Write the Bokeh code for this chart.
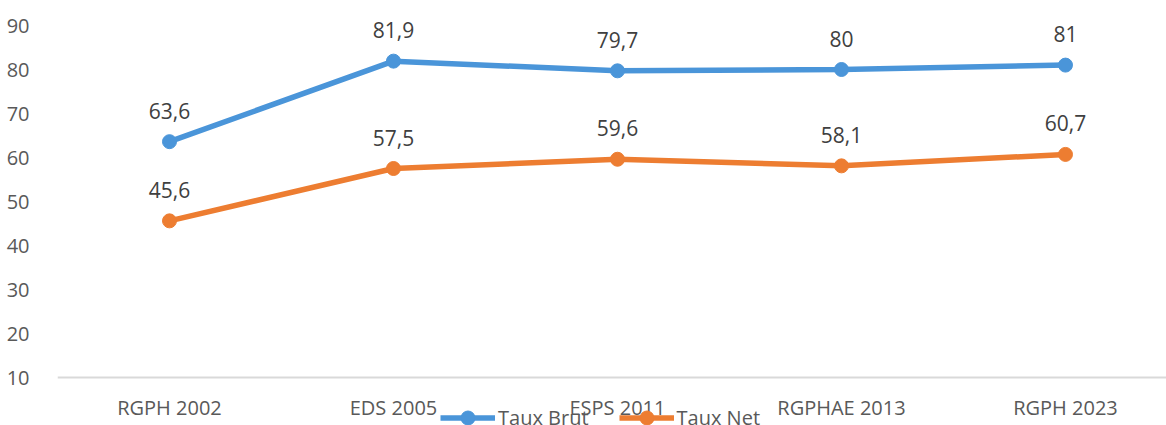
from bokeh.plotting import figure
from bokeh.models import ColumnDataSource, FixedTicker, Range1d, Legend, LegendItem, LinearAxis
from bokeh.core.properties import value
from bokeh.embed import file_html
from bokeh.resources import INLINE

categories = ["RGPH 2002", "EDS 2005", "ESPS 2011", "RGPHAE 2013", "RGPH 2023"]
taux_brut = [63.6, 81.9, 79.7, 80, 81]
taux_net = [45.6, 57.5, 59.6, 58.1, 60.7]
y_ticks = [10, 20, 30, 40, 50, 60, 70, 80, 90]

FONT = "Open Sans"
BLUE = "#4A95D9"
ORANGE = "#ED7D31"

xs = list(range(len(categories)))

def fmt(v):
    s = ("%g" % v)
    return s.replace(".", ",")

src_b = ColumnDataSource(dict(x=xs, y=taux_brut, lab=[fmt(v) for v in taux_brut]))
src_n = ColumnDataSource(dict(x=xs, y=taux_net, lab=[fmt(v) for v in taux_net]))

p = figure(width=1166, height=425, output_backend="svg", toolbar_location=None,
           x_range=Range1d(-0.5, 4.451), y_range=Range1d(10 - 48 / 4.4, 90 + 25 / 4.4),
           x_axis_location=None,
           min_border_left=57, min_border_right=0, min_border_top=0, min_border_bottom=0)
p.outline_line_color = None
p.xgrid.grid_line_color = None
p.ygrid.grid_line_color = None
p.background_fill_color = "white"
p.border_fill_color = "white"

lb = p.line("x", "y", source=src_b, line_color=BLUE, line_width=5.5)
cb = p.scatter("x", "y", source=src_b, size=14, fill_color=BLUE, line_color=BLUE)
ln = p.line("x", "y", source=src_n, line_color=ORANGE, line_width=5.5)
cn = p.scatter("x", "y", source=src_n, size=14, fill_color=ORANGE, line_color=ORANGE)

for s in (src_b, src_n):
    p.text("x", "y", text="lab", source=s, text_align="center", text_baseline="middle",
           y_offset=-31, text_font=value(FONT), text_font_size="21px", text_color="#404040")

xaxis = LinearAxis(fixed_location=10)
xaxis.ticker = FixedTicker(ticks=xs)
xaxis.major_label_overrides = {i: c for i, c in enumerate(categories)}
xaxis.axis_line_color = "#D9D9D9"
xaxis.axis_line_width = 2
xaxis.major_tick_line_color = None
xaxis.minor_tick_line_color = None
xaxis.major_label_standoff = 10
xaxis.major_label_text_font = FONT
xaxis.major_label_text_font_size = "20px"
xaxis.major_label_text_color = "#595959"
p.add_layout(xaxis, "below")

p.yaxis.ticker = FixedTicker(ticks=y_ticks)
p.yaxis.axis_line_color = None
p.yaxis.major_tick_line_color = None
p.yaxis.minor_tick_line_color = None
p.yaxis.major_label_standoff = 22
p.yaxis.major_label_text_font = FONT
p.yaxis.major_label_text_font_size = "20px"
p.yaxis.major_label_text_color = "#595959"

legend = Legend(items=[LegendItem(label="Taux Brut", renderers=[lb, cb]),
                       LegendItem(label="Taux Net", renderers=[ln, cn])],
                orientation="horizontal", location=(383, -10),
                label_text_font=FONT, label_text_font_size="20px", label_text_color="#595959",
                glyph_width=55, glyph_height=35, spacing=30, label_standoff=3,
                background_fill_alpha=0, border_line_color=None, padding=0, margin=0)
p.add_layout(legend, "center")

open("out.html", "w").write(file_html(p, INLINE))
